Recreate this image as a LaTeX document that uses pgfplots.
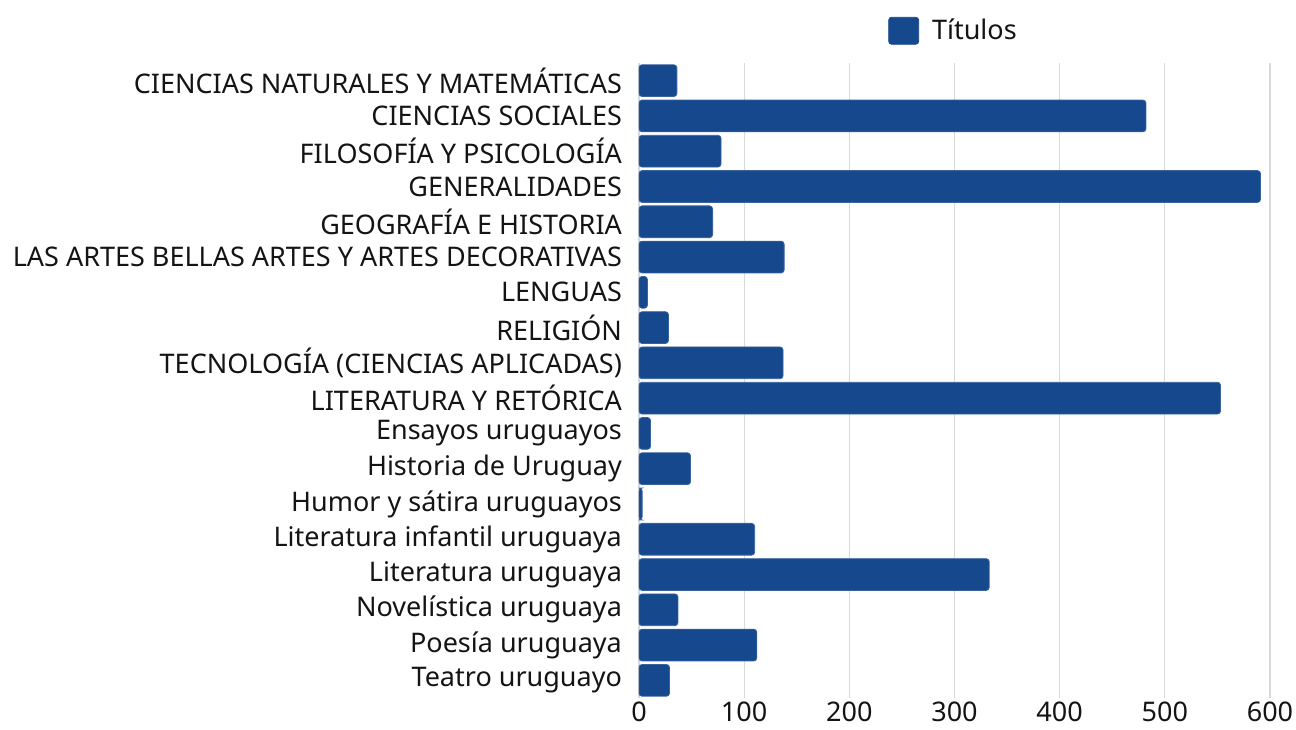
\documentclass[border=0pt]{standalone}
\usepackage{fontspec}
\setmainfont{Noto Sans}
\usepackage{pgfplots}
\pgfplotsset{compat=1.18}
\definecolor{barblue}{RGB}{21,72,140}
\definecolor{gridgray}{RGB}{217,217,217}
\begin{document}
\begin{tikzpicture}
\path[use as bounding box] (-319.5pt,-15.5pt) rectangle (328.5pt,349pt);
\begin{axis}[
  at={(0,0)}, anchor=south west,
  scale only axis,
  width=315.5pt, height=317.5pt,
  xbar, bar width=0.9,
  xmin=0, xmax=600,
  ymin=-0.5, ymax=17.5,
  y dir=reverse,
  xtick={0,100,...,600},
  ytick={0,...,17},
  yticklabels={
    CIENCIAS NATURALES Y MATEMÁTICAS,
    CIENCIAS SOCIALES,
    FILOSOFÍA Y PSICOLOGÍA,
    GENERALIDADES,
    GEOGRAFÍA E HISTORIA,
    LAS ARTES BELLAS ARTES Y ARTES DECORATIVAS,
    LENGUAS,
    RELIGIÓN,
    TECNOLOGÍA (CIENCIAS APLICADAS),
    LITERATURA Y RETÓRICA,
    Ensayos uruguayos,
    Historia de Uruguay,
    Humor y sátira uruguayos,
    Literatura infantil uruguaya,
    Literatura uruguaya,
    Novelística uruguaya,
    Poesía uruguaya,
    Teatro uruguayo},
  xmajorgrids, grid style={draw=gridgray, line width=0.6pt},
  axis line style={draw=none},
  major tick length=0pt,
  tick label style={font=\fontsize{13.5}{15}\selectfont, text=black!92},
  /pgf/number format/assume math mode=true,
  yticklabel style={xshift=-5pt},
  xticklabel style={inner sep=2pt},
  legend style={at={(0.5,1)}, anchor=south, yshift=6pt, draw=none, fill=none,
    font=\fontsize{13.5}{15}\selectfont, text=black!92},
  legend image code/.code={
    \fill[barblue] (0pt,-6.75pt) rectangle (15pt,6.75pt);
    \path (19.5pt,0pt);},
]
\addplot[fill=barblue, draw=barblue!85!white, rounded corners=1.5pt] coordinates {
  (36,0) (482,1) (78,2) (591,3) (70,4) (138,5) (8,6) (28,7) (137,8)
  (553,9) (11,10) (49,11) (3,12) (110,13) (333,14) (37,15) (112,16) (29,17)
};
\addlegendentry{Títulos}
\end{axis}
\end{tikzpicture}
\end{document}
